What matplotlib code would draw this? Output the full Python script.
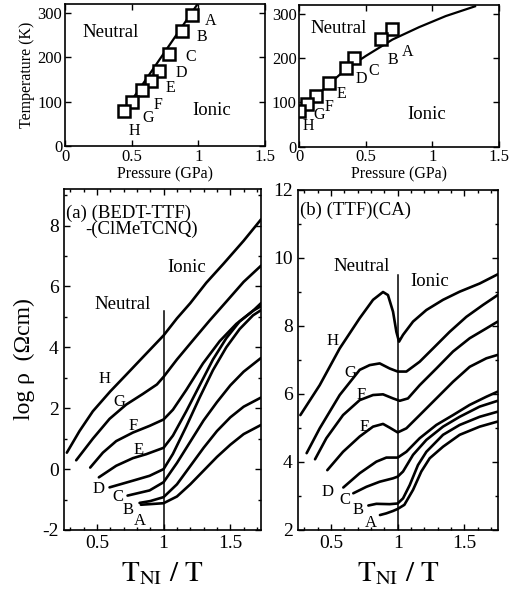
import matplotlib
matplotlib.use('Agg')
import matplotlib.pyplot as plt
from matplotlib.ticker import MultipleLocator

plt.rcParams['font.family'] = ['Liberation Serif', 'DejaVu Serif']
plt.rcParams['mathtext.fontset'] = 'stix'

# --- phase diagrams (top) ---
letters = ['A', 'B', 'C', 'D', 'E', 'F', 'G', 'H']

# (BEDT-TTF)(ClMeTCNQ): squares A..H
p_a = [0.955, 0.875, 0.78, 0.708, 0.643, 0.575, 0.50, 0.443]
t_a = [295, 259, 207, 169, 146, 126, 100, 80]
bound_p_a = [0.443, 0.99]
bound_t_a = [78, 318]
lab_p_a = [1.09, 1.025, 0.943, 0.875, 0.788, 0.70, 0.62, 0.518]
lab_t_a = [282, 246, 201, 164, 130, 92, 62, 34]

# (TTF)(CA): squares A..H
p_b = [0.70, 0.61, 0.413, 0.348, 0.225, 0.125, 0.06, 0.0]
t_b = [266, 243, 200, 178, 143, 115, 96, 80]
bound_p_b = [0.0, 0.1, 0.2, 0.35, 0.5, 0.7, 0.9, 1.1, 1.32]
bound_t_b = [70, 105, 135, 175, 205, 242, 270, 295, 317]
lab_p_b = [0.81, 0.705, 0.555, 0.468, 0.318, 0.225, 0.15, 0.068]
lab_t_b = [213, 195, 171, 153, 118, 90, 72, 47]

# --- resistivity (bottom), TNI/T vs log rho ---
# panel (a)
ra = {
    'H': ([0.275, 0.37, 0.47, 0.6, 0.72, 0.85, 1.0, 1.1, 1.2, 1.32, 1.45, 1.6, 1.73],
          [0.54, 1.25, 1.9, 2.55, 3.1, 3.7, 4.39, 4.95, 5.45, 6.12, 6.75, 7.5, 8.2]),
    'G': ([0.345, 0.47, 0.595, 0.72, 0.845, 0.95, 1.0, 1.1, 1.22, 1.345, 1.47, 1.6, 1.73],
          [0.29, 1.0, 1.65, 2.12, 2.47, 2.78, 3.03, 3.6, 4.23, 4.88, 5.5, 6.15, 6.68]),
    'F': ([0.45, 0.545, 0.645, 0.77, 0.895, 1.0, 1.07, 1.17, 1.295, 1.42, 1.545, 1.67, 1.73],
          [0.05, 0.54, 0.92, 1.2, 1.42, 1.63, 1.95, 2.6, 3.47, 4.2, 4.77, 5.2, 5.45]),
    'E': ([0.515, 0.645, 0.77, 0.87, 1.0, 1.07, 1.17, 1.27, 1.37, 1.47, 1.57, 1.67, 1.73],
          [-0.27, 0.11, 0.36, 0.49, 0.70, 1.1, 1.9, 2.75, 3.6, 4.3, 4.85, 5.2, 5.35]),
    'D': ([0.595, 0.77, 0.895, 1.0, 1.07, 1.17, 1.27, 1.37, 1.47, 1.57, 1.67, 1.73],
          [-0.6, -0.38, -0.22, 0.0, 0.5, 1.4, 2.35, 3.25, 4.0, 4.6, 5.05, 5.22]),
    'C': ([0.73, 0.895, 1.0, 1.1, 1.2, 1.3, 1.4, 1.5, 1.6, 1.73],
          [-0.87, -0.7, -0.43, 0.2, 0.9, 1.6, 2.2, 2.75, 3.2, 3.65]),
    'B': ([0.82, 0.9, 1.0, 1.1, 1.2, 1.3, 1.4, 1.5, 1.6, 1.73],
          [-1.11, -1.05, -0.92, -0.5, 0.1, 0.7, 1.25, 1.7, 2.05, 2.35]),
    'A': ([0.83, 0.9, 1.0, 1.1, 1.2, 1.3, 1.4, 1.5, 1.6, 1.73],
          [-1.17, -1.15, -1.12, -0.9, -0.5, -0.05, 0.4, 0.8, 1.15, 1.45]),
}
lab_xa = [0.82, 0.73, 0.657, 0.515, 0.815, 0.775, 0.665, 0.558]
lab_ya = [-1.72, -1.33, -0.92, -0.65, 0.63, 1.41, 2.19, 2.95]

# panel (b)
rb = {
    'H': ([0.27, 0.415, 0.565, 0.715, 0.815, 0.89, 0.927, 0.965, 0.99, 1.01, 1.04, 1.115, 1.215, 1.34, 1.465, 1.615, 1.75],
          [5.38, 6.26, 7.34, 8.23, 8.77, 9.0, 8.91, 8.42, 7.83, 7.54, 7.74, 8.13, 8.47, 8.77, 9.01, 9.25, 9.52]),
    'G': ([0.317, 0.415, 0.565, 0.715, 0.79, 0.865, 0.94, 1.0, 1.065, 1.165, 1.265, 1.39, 1.515, 1.64, 1.75],
          [4.26, 4.99, 5.97, 6.71, 6.85, 6.9, 6.75, 6.66, 6.66, 6.95, 7.34, 7.83, 8.27, 8.62, 8.91]),
    'F': ([0.38, 0.465, 0.59, 0.715, 0.815, 0.89, 0.965, 1.015, 1.077, 1.165, 1.29, 1.415, 1.54, 1.665, 1.75],
          [4.08, 4.7, 5.38, 5.82, 5.97, 5.99, 5.87, 5.8, 5.87, 6.26, 6.75, 7.25, 7.64, 7.93, 8.13]),
    'E': ([0.472, 0.59, 0.715, 0.815, 0.89, 0.94, 1.0, 1.065, 1.165, 1.29, 1.415, 1.54, 1.665, 1.75],
          [3.76, 4.3, 4.75, 5.04, 5.12, 5.01, 4.87, 4.99, 5.38, 5.87, 6.36, 6.8, 7.05, 7.15]),
    'D': ([0.592, 0.715, 0.84, 0.915, 1.0, 1.065, 1.165, 1.29, 1.415, 1.54, 1.665, 1.75],
          [3.25, 3.67, 4.01, 4.13, 4.13, 4.3, 4.7, 5.09, 5.38, 5.68, 5.92, 6.07]),
    'C': ([0.667, 0.765, 0.865, 0.965, 1.0, 1.04, 1.115, 1.215, 1.34, 1.465, 1.615, 1.75],
          [3.08, 3.27, 3.42, 3.52, 3.57, 3.72, 4.21, 4.65, 5.04, 5.33, 5.63, 5.8]),
    'B': ([0.78, 0.84, 0.94, 1.0, 1.04, 1.09, 1.152, 1.215, 1.34, 1.465, 1.615, 1.75],
          [2.72, 2.77, 2.76, 2.78, 2.93, 3.32, 3.91, 4.3, 4.8, 5.09, 5.33, 5.48]),
    'A': ([0.867, 0.915, 0.965, 1.0, 1.05, 1.115, 1.177, 1.24, 1.34, 1.465, 1.615, 1.75],
          [2.44, 2.49, 2.56, 2.62, 2.74, 3.18, 3.72, 4.11, 4.45, 4.8, 5.04, 5.19]),
}
lab_xb = [0.802, 0.702, 0.602, 0.477, 0.752, 0.727, 0.645, 0.51]
lab_yb = [2.2, 2.59, 2.88, 3.13, 5.04, 5.97, 6.61, 7.56]

W, H = 511, 591
fig = plt.figure(figsize=(W / 100, H / 100), dpi=100)


def rect(l, t, r, b):
    return [l / W, 1 - b / H, (r - l) / W, (b - t) / H]


def style(ax, fs):
    ax.tick_params(which='both', direction='in', top=True, right=True, labelsize=fs, width=1)
    ax.tick_params(which='major', length=4)
    ax.tick_params(which='minor', length=2.5)
    for s in ax.spines.values():
        s.set_linewidth(1.2)


def phase(ax, p, t, bp, bt, lp, lt, neutral, ionic, ylabel):
    ax.plot(bp, bt, color='black', lw=1.6)
    ax.plot(p, t, ls='none', marker='s', ms=8.5, mfc='white', mec='black', mew=1.8)
    for k in range(len(letters)):
        ax.text(lp[k], lt[k], letters[k], fontsize=11.5, ha='center', va='center')
    ax.text(neutral[0], neutral[1], 'Neutral', fontsize=13.5, ha='center', va='center')
    ax.text(ionic[0], ionic[1], 'Ionic', fontsize=13.5, ha='center', va='center')
    ax.set_xlim(0, 1.5)
    ax.set_ylim(0, 320)
    ax.set_xticks([0, 0.5, 1, 1.5], ['0', '0.5', '1', '1.5'])
    ax.set_yticks([0, 100, 200, 300])
    ax.set_xlabel('Pressure (GPa)', fontsize=11.5, labelpad=1)
    if ylabel:
        ax.set_ylabel('Temperature (K)', fontsize=11.5, labelpad=2)
    style(ax, 12)
    ax.tick_params(pad=2)


ax1 = fig.add_axes(rect(65, 4, 265, 146))
phase(ax1, p_a, t_a, bound_p_a, bound_t_a, lab_p_a, lab_t_a, (0.34, 256), (1.10, 81), True)
ax2 = fig.add_axes(rect(299.3, 5, 499, 146.7))
phase(ax2, p_b, t_b, bound_p_b, bound_t_b, lab_p_b, lab_t_b, (0.293, 267), (0.955, 72), False)


def resist(ax, curves, lx, ly):
    for k, name in enumerate(letters):
        x, y = curves[name]
        ax.plot(x, y, color='black', lw=1.9, solid_capstyle='round', solid_joinstyle='round')
        ax.text(lx[k], ly[k], name, fontsize=12, ha='center', va='center')
    ax.xaxis.set_major_locator(MultipleLocator(0.5))
    ax.xaxis.set_minor_locator(MultipleLocator(0.1))
    ax.yaxis.set_major_locator(MultipleLocator(2))
    ax.yaxis.set_minor_locator(MultipleLocator(1))
    ax.set_xticks([0.5, 1, 1.5], ['0.5', '1', '1.5'])
    ax.set_xlabel(r'$\mathrm{T_{NI}\ /\ T}$', fontsize=21, labelpad=6)
    style(ax, 14)


ax3 = fig.add_axes(rect(63.5, 189, 261, 530))
resist(ax3, ra, lab_xa, lab_ya)
ax3.plot([1, 1], [-2, 5.2], color='black', lw=1.1)
ax3.set_xlim(0.25, 1.73)
ax3.set_ylim(-2, 9.2)
ax3.set_yticks([-2, 0, 2, 4, 6, 8], ['-2', '0', '2', '4', '6', '8'])
ax3.text(0.27, 8.4, '(a) (BEDT-TTF)', fontsize=13.5, va='center')
ax3.text(0.41, 7.86, '-(ClMeTCNQ)', fontsize=13.5, va='center')
ax3.text(1.17, 6.63, 'Ionic', fontsize=13.5, ha='center', va='center')
ax3.text(0.695, 5.4, 'Neutral', fontsize=13.5, ha='center', va='center')
ax3.set_ylabel('log ρ  (Ωcm)', fontsize=17, labelpad=5)

ax4 = fig.add_axes(rect(297.7, 190, 497.7, 530))
resist(ax4, rb, lab_xb, lab_yb)
ax4.plot([1, 1], [2, 9.5], color='black', lw=1.1)
ax4.set_xlim(0.25, 1.75)
ax4.set_ylim(2, 12)
ax4.set_yticks([2, 4, 6, 8, 10, 12])
ax4.text(0.27, 11.41, '(b) (TTF)(CA)', fontsize=13.5, va='center')
ax4.text(0.727, 9.75, 'Neutral', fontsize=13.5, ha='center', va='center')
ax4.text(1.24, 9.3, 'Ionic', fontsize=13.5, ha='center', va='center')

fig.savefig('out.png', dpi=100)
